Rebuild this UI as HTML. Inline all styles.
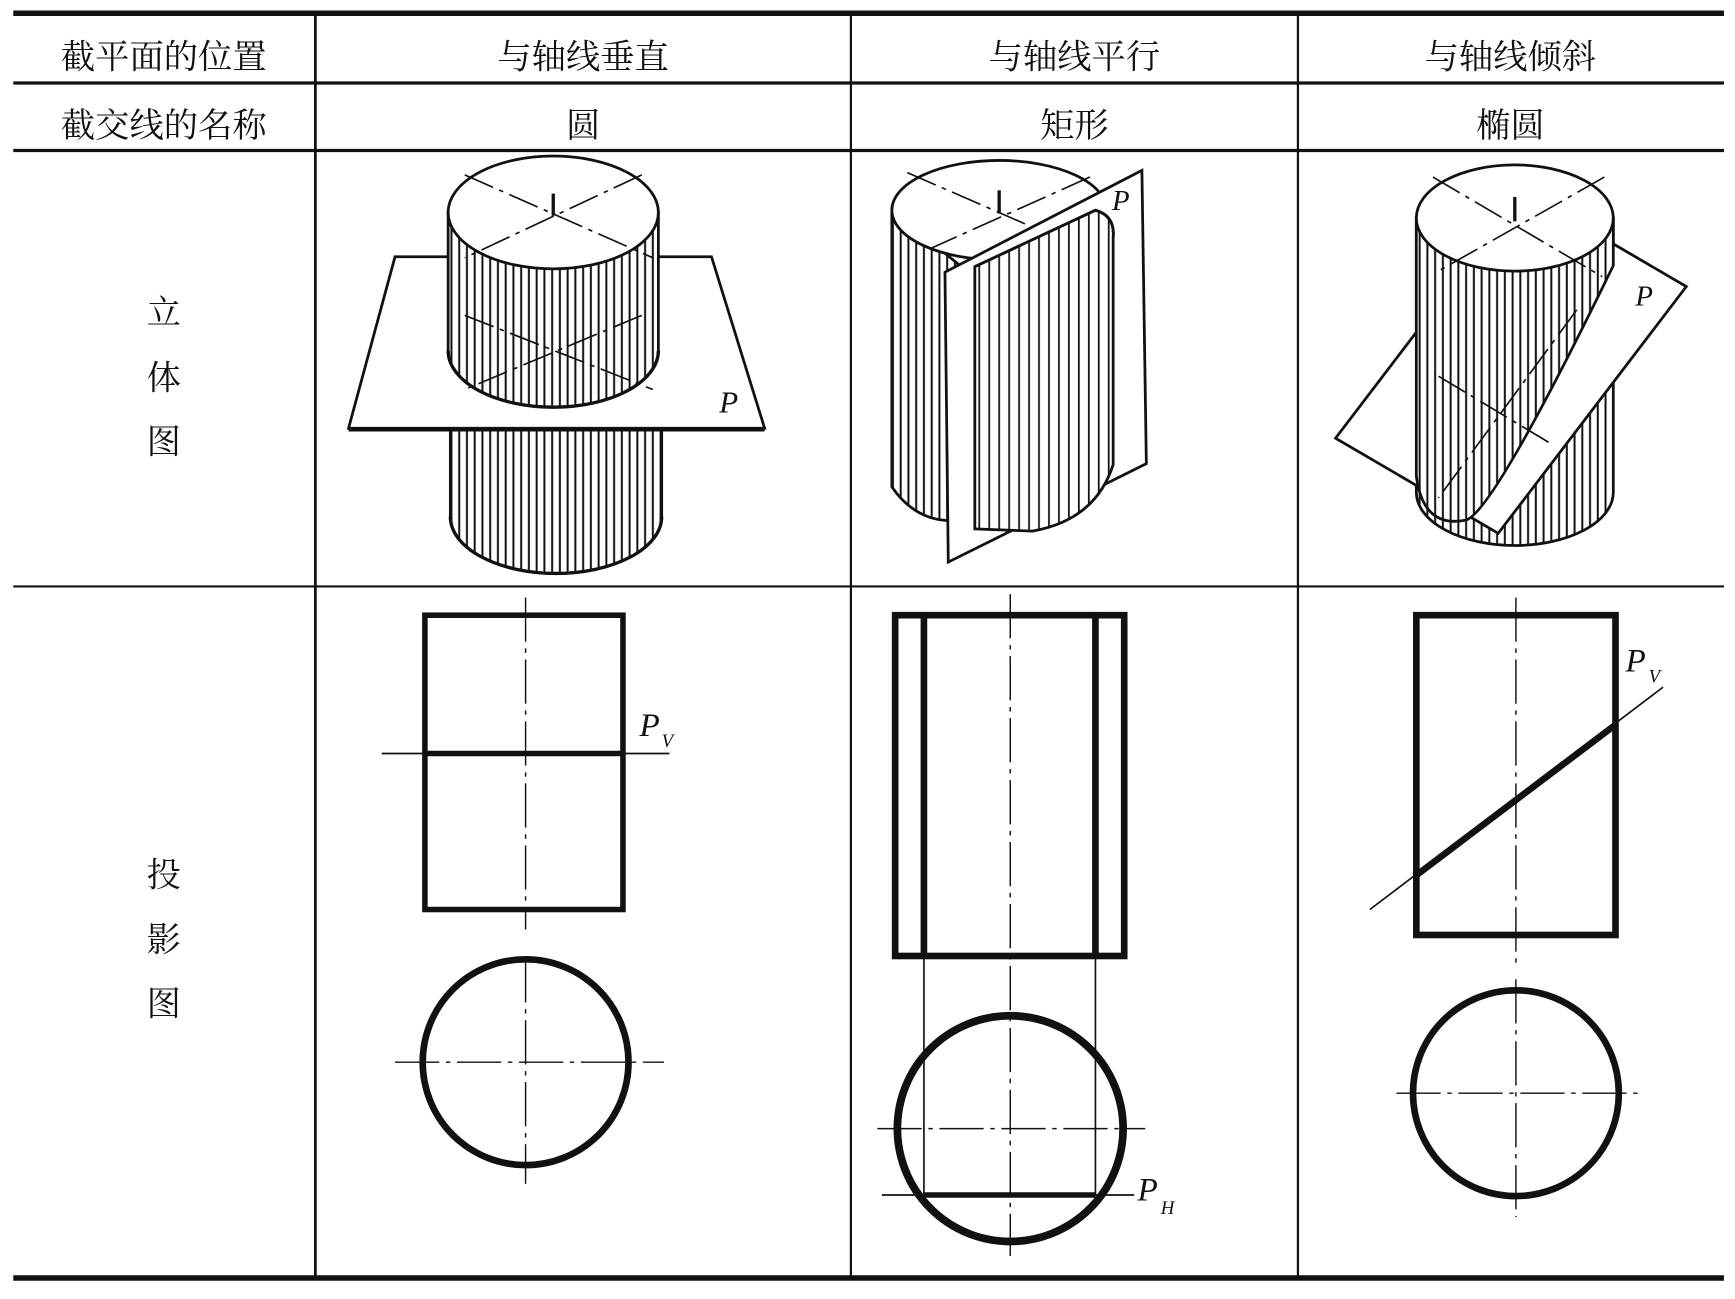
<!DOCTYPE html>
<html><head><meta charset="utf-8"><style>
html,body{margin:0;padding:0;background:#fff}
svg{display:block}
text{font-family:"Liberation Serif","Noto Serif CJK SC","Noto Sans CJK SC",serif;fill:#111}
</style></head><body>
<svg width="1735" height="1299" viewBox="0 0 1568 1174" preserveAspectRatio="none" xmlns="http://www.w3.org/2000/svg">
<defs>
<pattern id="h" width="7" height="10" patternUnits="userSpaceOnUse"><rect width="7" height="10" fill="#fff"/><line x1="2" y1="0" x2="2" y2="10" stroke="#111" stroke-width="1.8"/></pattern>
<pattern id="h2" width="9" height="10" patternUnits="userSpaceOnUse"><rect width="9" height="10" fill="#fff"/><line x1="3" y1="0" x2="3" y2="10" stroke="#111" stroke-width="1.6"/></pattern>
</defs>
<g stroke="#111" fill="none">
<line x1="12" y1="12" x2="1558" y2="12" stroke-width="5"/>
<line x1="12" y1="75" x2="1558" y2="75" stroke-width="3"/>
<line x1="12" y1="136" x2="1558" y2="136" stroke-width="3"/>
<line x1="12" y1="530" x2="1558" y2="530" stroke-width="2"/>
<line x1="12" y1="1155" x2="1558" y2="1155" stroke-width="5"/>
<line x1="285" y1="14" x2="285" y2="1153" stroke-width="2.5"/>
<line x1="769" y1="14" x2="769" y2="1153" stroke-width="2"/>
<line x1="1173" y1="14" x2="1173" y2="1153" stroke-width="2"/>
</g>
<g font-size="31" text-anchor="middle">
<text x="148" y="62">截平面的位置</text>
<text x="527" y="62">与轴线垂直</text>
<text x="971" y="62">与轴线平行</text>
<text x="1365" y="62">与轴线倾斜</text>
<text x="148" y="124">截交线的名称</text>
<text x="527" y="124">圆</text>
<text x="971" y="124">矩形</text>
<text x="1365" y="124">椭圆</text>
<text x="148" y="293">立</text><text x="148" y="352">体</text><text x="148" y="410">图</text>
<text x="148" y="801">投</text><text x="148" y="860">影</text><text x="148" y="918">图</text>
</g>

<!-- Col1 3D -->
<g stroke="#111" stroke-width="2.5">
<path d="M407,380 L407,467 A95,51 0 0 0 598,467 L598,380 Z" fill="url(#h)"/>
<path d="M407,467 A95,51 0 0 0 598,467" fill="none" stroke-width="3"/>
<polygon points="357,232 643,232 691,387 315,387" fill="#fff"/>
<line x1="315" y1="388" x2="691" y2="388" stroke-width="4"/>
<path d="M405,192 L405,317 A95,51 0 0 0 595,317 L595,192 Z" fill="url(#h)"/>
<path d="M405,317 A95,51 0 0 0 595,317" fill="none" stroke-width="3"/>
<ellipse cx="500" cy="192" rx="95" ry="51" fill="#fff"/>
<g stroke-width="1.5" stroke-dasharray="28 6 4 6" fill="none">
<line x1="420" y1="158" x2="590" y2="233"/><line x1="580" y1="158" x2="420" y2="233"/>
<line x1="420" y1="285" x2="590" y2="352"/><line x1="580" y1="285" x2="420" y2="352"/>
</g>
<line x1="500" y1="175" x2="500" y2="195" stroke-width="3"/>
</g>
<text x="650" y="373" font-size="28" font-style="italic">P</text>

<!-- Col2 3D -->
<g stroke="#111" stroke-width="2.5">
<path d="M806,190 L806,440 Q830,475 870,470 L880,250 Z" fill="url(#h)"/>
<ellipse cx="903" cy="190" rx="97" ry="45" fill="#fff"/>
<g stroke-width="1.5" stroke-dasharray="28 6 4 6" fill="none">
<line x1="820" y1="156" x2="990" y2="230"/><line x1="985" y1="160" x2="840" y2="225"/>
</g>
<line x1="903" y1="172" x2="903" y2="193" stroke-width="3"/>
<polygon points="854,246 1032,154 1036,419 857,508" fill="#fff"/>
<path d="M881,241 L990,190 Q1008,195 1006,215 L1006,420 Q990,470 933,480 L881,478 Z" fill="url(#h2)"/>
<path d="M881,241 L990,190 Q1008,195 1006,215" fill="none"/>
</g>
<text x="1005" y="190" font-size="26" font-style="italic">P</text>

<!-- Col3 3D -->
<g stroke="#111" stroke-width="2.5">
<path d="M1280,197 L1280,445 A89,48 0 0 0 1458,445 L1458,197 Z" fill="url(#h)"/>
<polygon points="1207,396 1377,173 1524,259 1354,482" fill="#fff"/>
<path d="M1280,197 L1280,430 Q1286,478 1325,470 Q1350,462 1458,240 L1458,197 Z" fill="url(#h)"/>
<ellipse cx="1369" cy="197" rx="89" ry="48" fill="#fff"/>
<g stroke-width="1.5" stroke-dasharray="28 6 4 6" fill="none">
<line x1="1295" y1="160" x2="1448" y2="250"/><line x1="1450" y1="160" x2="1300" y2="245"/>
<line x1="1300" y1="340" x2="1400" y2="400"/><line x1="1425" y1="280" x2="1300" y2="450"/>
</g>
<line x1="1369" y1="178" x2="1369" y2="200" stroke-width="3"/>
</g>
<text x="1478" y="276" font-size="26" font-style="italic">P</text>

<!-- projections -->
<g stroke="#111" fill="none">
<rect x="384" y="556" width="179" height="266" stroke-width="5"/>
<line x1="384" y1="681" x2="563" y2="681" stroke-width="5"/>
<line x1="345" y1="681" x2="605" y2="681" stroke-width="1.5"/>
<line x1="475" y1="540" x2="475" y2="840" stroke-width="1.3" stroke-dasharray="40 6 4 6"/>
<circle cx="475" cy="960" r="93" stroke-width="6"/>
<line x1="357" y1="960" x2="600" y2="960" stroke-width="1.3" stroke-dasharray="40 6 4 6"/>
<line x1="475" y1="866" x2="475" y2="1070" stroke-width="1.3" stroke-dasharray="40 6 4 6"/>

<rect x="809" y="556" width="207" height="308" stroke-width="6"/>
<line x1="835" y1="556" x2="835" y2="864" stroke-width="6"/>
<line x1="990" y1="556" x2="990" y2="864" stroke-width="6"/>
<line x1="835" y1="864" x2="835" y2="1080" stroke-width="1.5"/>
<line x1="990" y1="864" x2="990" y2="1080" stroke-width="1.5"/>
<line x1="913" y1="537" x2="913" y2="1135" stroke-width="1.3" stroke-dasharray="40 6 4 6"/>
<circle cx="913" cy="1020" r="102" stroke-width="7"/>
<line x1="793" y1="1020" x2="1035" y2="1020" stroke-width="1.3" stroke-dasharray="40 6 4 6"/>
<line x1="797" y1="1080" x2="1025" y2="1080" stroke-width="1.5"/>
<line x1="835" y1="1080" x2="990" y2="1080" stroke-width="5"/>

<rect x="1280" y="556" width="180" height="289" stroke-width="6"/>
<line x1="1370" y1="540" x2="1370" y2="870" stroke-width="1.3" stroke-dasharray="40 6 4 6"/>
<line x1="1238" y1="822" x2="1503" y2="621" stroke-width="1.5"/>
<line x1="1280" y1="791" x2="1460" y2="655" stroke-width="6"/>
<circle cx="1370" cy="988" r="93" stroke-width="6"/>
<line x1="1262" y1="988" x2="1480" y2="988" stroke-width="1.3" stroke-dasharray="40 6 4 6"/>
<line x1="1370" y1="885" x2="1370" y2="1100" stroke-width="1.3" stroke-dasharray="40 6 4 6"/>
</g>
<g font-style="italic">
<text x="578" y="665" font-size="30">P</text><text x="598" y="675" font-size="17">V</text>
<text x="1028" y="1085" font-size="30">P</text><text x="1049" y="1097" font-size="17">H</text>
<text x="1469" y="607" font-size="30">P</text><text x="1490" y="617" font-size="17">V</text>
</g>
</svg>
</body></html>
